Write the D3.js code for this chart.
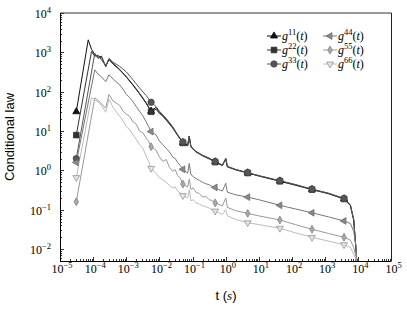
<!DOCTYPE html>
<html>
<head>
<meta charset="UTF-8">
<title>Conditional law</title>
<script src="https://d3js.org/d3.v7.min.js"></script>
<style>
body { margin: 0; background: #fff; }
.serif { font-family: "Liberation Serif", "DejaVu Serif", serif; }
.sans { font-family: "Liberation Sans", "DejaVu Sans", sans-serif; }
</style>
</head>
<body>
<div id="chart"></div>
<script>
// sample times (s), shared by all series; null = no sample for that series
const times = [3.1e-5, 7.1e-5, 8.9e-5, 1.12e-4, 1.41e-4, 1.78e-4, 2.4e-4, 3.0e-4, 4.0e-4, 6.3e-4,
  8.0e-4, 1.0e-3, 1.25e-3, 1.6e-3, 2.0e-3, 2.5e-3, 3.2e-3, 4.0e-3, 4.7e-3, 5.6e-3,
  7.9e-3, 1.0e-2, 1.26e-2, 1.6e-2, 2.0e-2, 2.5e-2, 3.0e-2, 3.5e-2, 4.2e-2, 5.1e-2,
  7.1e-2, 7.9e-2, 8.9e-2, 0.105, 0.126, 0.16, 0.2, 0.25, 0.32, 0.4,
  0.48, 0.6, 0.79, 1.0, 1.12, 2.0, 4.6, 10, 43, 126,
  400, 1260, 3700, 5750, 7250, 8500, 9300];

const g11 = [31, 2080, 1200, 870, 750, 800, 430, 680, 520, 370,
  null, 240, null, 150, null, 91, null, 52, null, 32,
  40, 30, 25, 20, null, 12.5, null, 8, null, 5.1,
  4.3, 7.5, 4.0, null, 3.0, null, 2.4, null, 2.0, null,
  1.66, null, 1.35, 2.0, 1.25, 1.05, 0.87, 0.73, 0.54, 0.43,
  0.33, 0.26, 0.19, 0.13, 0.055, 0.0095, 0.003];
const g22 = [7.9, null, 1050, 800, 850, 650, 460, 650, 500, 360,
  null, 235, null, 145, null, 88, null, 50, null, 31,
  36, 28, 24, 19, null, 12, null, 7.8, null, 5.0,
  4.2, 7.2, 3.9, null, 2.95, null, 2.35, null, 1.95, null,
  1.63, null, 1.33, 1.9, 1.23, 1.03, 0.86, 0.72, 0.53, 0.42,
  0.325, 0.255, 0.188, 0.128, 0.054, 0.0095, 0.003];
const g33 = [2.0, null, null, 950, 700, 760, 450, 700, 560, 440,
  null, 320, null, 200, null, 125, null, 80, null, 54,
  42, 32, 26, 21, null, 13, null, 8.2, null, 5.3,
  4.4, 7.4, 4.1, null, 3.05, null, 2.45, null, 2.05, null,
  1.68, null, 1.37, 2.0, 1.27, 1.06, 0.88, 0.74, 0.55, 0.44,
  0.335, 0.265, 0.195, 0.135, 0.056, 0.0097, 0.003];
const g44 = [1.6, null, null, 360, 280, 240, 180, 270, 210, 150,
  115, 85, 72, 55, 42, 32, 24, 17, 13, 9.7,
  8.0, 5.6, 4.5, 3.6, 3.0, 2.2, 2.0, 1.6, 1.35, 1.07,
  0.85, 1.5, 0.78, 0.7, 0.62, 0.56, 0.5, 0.46, 0.43, 0.39,
  0.37, 0.33, 0.3, 0.47, 0.28, 0.24, 0.21, 0.18, 0.13, 0.105,
  0.084, 0.066, 0.052, 0.045, 0.028, 0.012, 0.003];
const g55 = [0.16, null, null, 70, 60, 50, 38, 85, 58, 45,
  32, 27, 24, 17, 15, 10, 9, 6.5, 5.5, 4.0,
  3.3, 2.2, 1.7, 1.9, 1.2, 0.95, 1.05, 0.75, 0.65, 0.45,
  0.38, 0.6, 0.33, 0.36, 0.28, 0.26, 0.21, 0.22, 0.18, 0.17,
  0.15, 0.14, 0.125, 0.2, 0.115, 0.095, 0.081, 0.07, 0.055, 0.042,
  0.032, 0.025, 0.020, 0.017, 0.011, 0.0065, 0.003];
const g66 = [0.66, null, 70, 62, 55, 45, 30, 65, 40, 24,
  18, 13, 11, 8, 6.2, 4.5, 3.6, 2.3, 1.7, 1.13,
  0.85, 0.65, 0.58, 0.5, 0.42, 0.36, 0.38, 0.3, 0.27, 0.23,
  0.2, 0.32, 0.17, 0.18, 0.15, 0.14, 0.125, 0.12, 0.11, 0.1,
  0.093, 0.085, 0.076, 0.1, 0.07, 0.057, 0.047, 0.042, 0.034, 0.026,
  0.020, 0.016, 0.013, 0.011, 0.0075, 0.0055, 0.003];

const markerTimes = [3.1e-5, 5.6e-3, 5.1e-2, 0.48, 4.6, 43, 400, 3700];
const xTickExps = [-5, -4, -3, -2, -1, 0, 1, 2, 3, 4, 5];
const yTickExps = [-2, -1, 0, 1, 2, 3, 4];

const width = 407, height = 309;
const mLeft = 60, mRight = 391.5, mTop = 13, mBottom = 261;

const x = d3.scaleLog().domain([1e-5, 1e5]).range([mLeft, mRight]);
const y = d3.scaleLog().domain([0.005, 1e4]).range([mBottom, mTop]);

const series = [
  { key: "11", values: g11, stroke: "#111", fill: "#111", edge: "#000", shape: d3.symbolTriangle, rot: 0, size: 22 },
  { key: "22", values: g22, stroke: "#333", fill: "#333", edge: "#222", shape: d3.symbolSquare, rot: 0, size: 32 },
  { key: "33", values: g33, stroke: "#555", fill: "#555", edge: "#444", shape: d3.symbolCircle, rot: 0, size: 32 },
  { key: "44", values: g44, stroke: "#777", fill: "#888", edge: "#666", shape: d3.symbolTriangle, rot: -90, size: 20 },
  { key: "55", values: g55, stroke: "#999", fill: "#aaa", edge: "#777", shape: d3.symbolDiamond, rot: 0, size: 18 },
  { key: "66", values: g66, stroke: "#bbb", fill: "#e4e4e4", edge: "#888", shape: d3.symbolTriangle, rot: 180, size: 20 }
];

const svg = d3.select("#chart").append("svg")
  .attr("width", width)
  .attr("height", height);

svg.append("defs").append("clipPath").attr("id", "plot")
  .append("rect")
  .attr("x", mLeft).attr("y", mTop)
  .attr("width", mRight - mLeft).attr("height", mBottom - mTop);

// ticks (inward, on left and bottom)
const axisG = svg.append("g").attr("stroke", "#000").attr("stroke-width", 0.8);
for (let e = -5; e < 5; e++) {
  for (let m = 1; m < 10; m++) {
    const v = m * Math.pow(10, e);
    const px = Math.round(x(v)) + 0.5;
    axisG.append("line").attr("x1", px).attr("x2", px)
      .attr("y1", mBottom).attr("y2", mBottom - (m === 1 ? 4 : 2));
  }
}
axisG.append("line").attr("x1", Math.round(x(1e5)) - 0.5).attr("x2", Math.round(x(1e5)) - 0.5)
  .attr("y1", mBottom).attr("y2", mBottom - 4);
for (let e = -3; e < 4; e++) {
  for (let m = 1; m < 10; m++) {
    const v = m * Math.pow(10, e);
    if (v < 0.005) continue;
    const py = Math.round(y(v)) + 0.5;
    axisG.append("line").attr("x1", mLeft).attr("x2", mLeft + (m === 1 ? 4 : 2))
      .attr("y1", py).attr("y2", py);
  }
}
axisG.append("line").attr("x1", mLeft).attr("x2", mLeft + 4)
  .attr("y1", y(1e4) + 0.5).attr("y2", y(1e4) + 0.5);

// lines
const line = d3.line().x(d => x(d[0])).y(d => y(d[1]));
const plot = svg.append("g").attr("clip-path", "url(#plot)");
series.forEach(s => {
  const pts = times.map((t, i) => [t, s.values[i]]).filter(d => d[1] != null);
  plot.append("path")
    .attr("d", line(pts))
    .attr("fill", "none")
    .attr("stroke", s.stroke)
    .attr("stroke-width", 1)
    .attr("stroke-linejoin", "round");
});

// markers
series.forEach(s => {
  const sym = d3.symbol().type(s.shape).size(s.size);
  markerTimes.forEach(t => {
    const i = times.indexOf(t);
    svg.append("path")
      .attr("d", sym())
      .attr("transform", "translate(" + x(t) + "," + y(s.values[i]) + ")rotate(" + s.rot + ")")
      .attr("fill", s.fill)
      .attr("stroke", s.edge)
      .attr("stroke-width", 0.7);
  });
});

// frame
svg.append("line").attr("x1", mLeft).attr("x2", mRight).attr("y1", mTop).attr("y2", mTop)
  .attr("stroke", "#333").attr("stroke-width", 1);
svg.append("line").attr("x1", mRight).attr("x2", mRight).attr("y1", mTop).attr("y2", mBottom)
  .attr("stroke", "#222").attr("stroke-width", 1);
svg.append("line").attr("x1", mLeft + 0.5).attr("x2", mLeft + 0.5).attr("y1", mTop).attr("y2", mBottom + 0.5)
  .attr("stroke", "#000").attr("stroke-width", 1);
svg.append("line").attr("x1", mLeft).attr("x2", mRight).attr("y1", mBottom + 0.5).attr("y2", mBottom + 0.5)
  .attr("stroke", "#000").attr("stroke-width", 1);

// tick labels
function pow10(text, e) {
  text.append("tspan").text("10");
  text.append("tspan").attr("dy", -5).attr("font-size", 8.5).text(e < 0 ? "\u2212" + (-e) : e);
}
xTickExps.forEach(e => {
  const t = svg.append("text")
    .attr("class", "serif")
    .attr("x", x(Math.pow(10, e)) + 2)
    .attr("y", 273)
    .attr("text-anchor", "middle")
    .attr("font-size", 12);
  pow10(t, e);
});
yTickExps.forEach(e => {
  const t = svg.append("text")
    .attr("class", "serif")
    .attr("x", 51)
    .attr("y", y(Math.pow(10, e)) + 5)
    .attr("text-anchor", "end")
    .attr("font-size", 12);
  pow10(t, e);
});

// axis titles
svg.append("text")
  .attr("class", "sans")
  .attr("transform", "translate(14," + (mTop + mBottom) / 2 + ")rotate(-90)")
  .attr("text-anchor", "middle")
  .attr("font-size", 13)
  .text("Conditional law");
const xl = svg.append("text")
  .attr("class", "sans")
  .attr("x", 226).attr("y", 300)
  .attr("text-anchor", "middle")
  .attr("font-size", 13);
xl.append("tspan").text("t (");
xl.append("tspan").attr("class", "serif").attr("font-style", "italic").text("s");
xl.append("tspan").text(")");

// legend: 2 columns x 3 rows
const legCols = [274, 330], legRows = [36, 50, 64];
series.forEach((s, i) => {
  const cx = legCols[Math.floor(i / 3)], cy = legRows[i % 3];
  const g = svg.append("g");
  g.append("line").attr("x1", cx - 7).attr("x2", cx + 7).attr("y1", cy).attr("y2", cy)
    .attr("stroke", s.stroke).attr("stroke-width", 1);
  g.append("path").attr("d", d3.symbol().type(s.shape).size(s.size)())
    .attr("transform", "translate(" + cx + "," + cy + ")rotate(" + s.rot + ")")
    .attr("fill", s.fill).attr("stroke", s.edge).attr("stroke-width", 0.7);
  const t = g.append("text").attr("class", "serif").attr("x", cx + 8).attr("y", cy + 4)
    .attr("font-size", 12);
  t.append("tspan").attr("font-style", "italic").text("g");
  t.append("tspan").attr("dy", -5).attr("font-size", 8.5).text(s.key);
  t.append("tspan").attr("dy", 5).text("(");
  t.append("tspan").attr("font-style", "italic").text("t");
  t.append("tspan").text(")");
});
</script>
</body>
</html>
